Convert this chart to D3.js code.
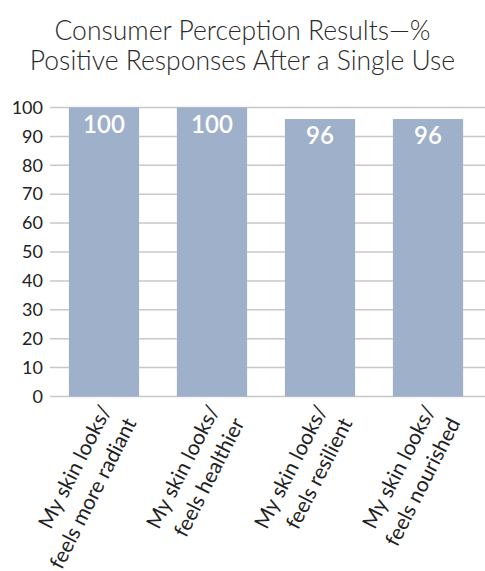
<!DOCTYPE html>
<html><head><meta charset="utf-8">
<script src="https://cdn.jsdelivr.net/npm/d3@7"></script>
<style>
html,body{margin:0;padding:0;background:#fff;}
svg{display:block;font-family:Lato,"Open Sans",sans-serif;}
</style></head>
<body>
<svg id="chart" width="485" height="571"></svg>
<script>
const titleLines = ["Consumer Perception Results\u2014%", "Positive Responses After a Single Use"];
const categories = ["My skin looks/|feels more radiant", "My skin looks/|feels healthier", "My skin looks/|feels resilient", "My skin looks/|feels nourished"];
const values = [100, 100, 96, 96];
const yTicks = [0,10,20,30,40,50,60,70,80,90,100];

const svg = d3.select("#chart");
const x = d3.scaleBand().domain(categories).range([50, 482]).paddingInner(0.35).paddingOuter(0.175);
const y = d3.scaleLinear().domain([0, 100]).range([396.5, 107.5]);

svg.append("g").selectAll("text").data(titleLines).join("text")
  .attr("x", 242.5).attr("y", (d,i) => 40 + i*29.5)
  .attr("text-anchor", "middle").attr("font-size", 26.5).attr("font-weight", 300)
  .attr("fill", "#2a2a2a").text(d => d);

// grid
svg.append("g").selectAll("line").data(yTicks).join("line")
  .attr("x1", 50).attr("x2", 485).attr("y1", d => y(d)).attr("y2", d => y(d))
  .attr("stroke", "#c8c8c8").attr("stroke-width", 1.5);

// y axis labels
const yAxis = d3.axisLeft(y).tickValues(yTicks).tickSize(0).tickPadding(0);
const ga = svg.append("g").attr("transform", "translate(43,0)").call(yAxis);
ga.select(".domain").remove();
ga.selectAll("text").attr("font-size", 18).attr("fill", "#222").attr("font-family", "Lato, sans-serif");

// bars
svg.append("g").selectAll("rect").data(values).join("rect")
  .attr("x", (d,i) => x(categories[i])).attr("width", x.bandwidth())
  .attr("y", d => y(d)).attr("height", d => y(0) - y(d))
  .attr("fill", "#9fb0cb");

// value labels
svg.append("g").selectAll("text").data(values).join("text")
  .attr("x", (d,i) => x(categories[i]) + x.bandwidth()/2)
  .attr("y", d => y(d) + 25)
  .attr("text-anchor", "middle").attr("font-size", 24).attr("font-weight", 600)
  .attr("fill", "#fff").text(d => d);

// x labels
const xl = svg.append("g").selectAll("text").data(categories).join("text")
  .attr("transform", d => `translate(${x(d) + x.bandwidth()/2 + 8},410) rotate(-63)`)
  .attr("text-anchor", "end").attr("font-size", 21).attr("font-weight", 400).attr("fill", "#222");
xl.selectAll("tspan").data(d => d.split("|")).join("tspan")
  .attr("x", 0).attr("dy", (d,i) => i === 0 ? 0 : 28).text(d => d);
</script>
</body></html>
